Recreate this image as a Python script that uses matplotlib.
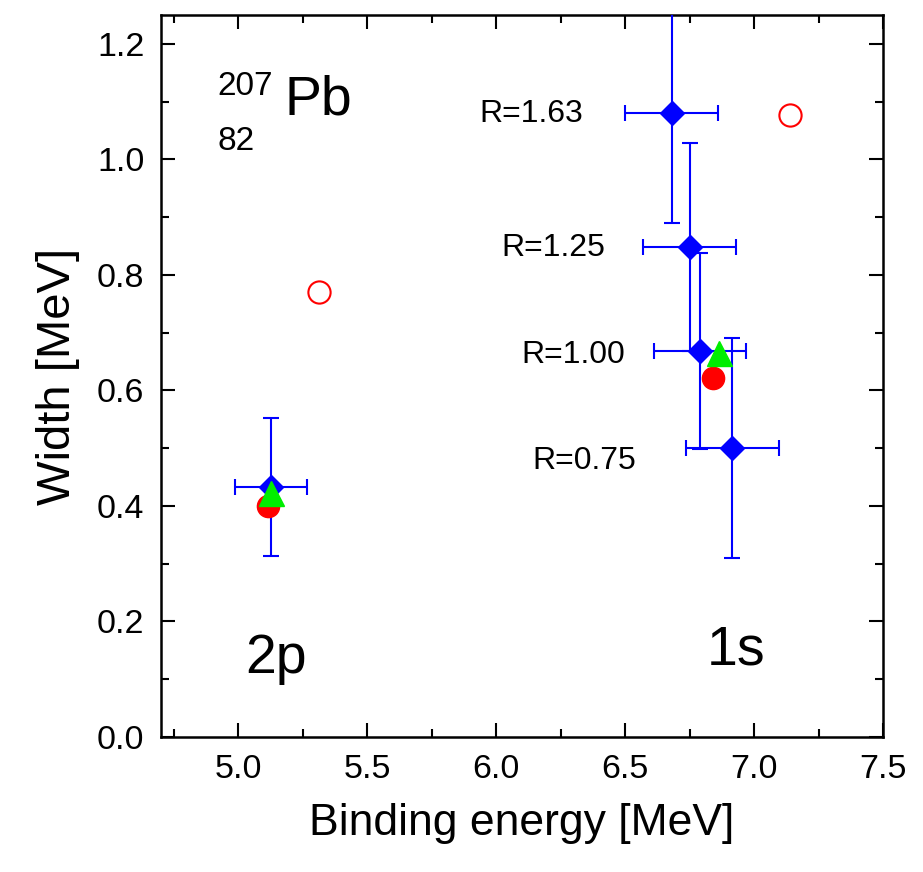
#!/usr/bin/env python3
"""
Pb-207 pionic/kaonic level widths vs binding energy
"""
import matplotlib
matplotlib.use("Agg")
import matplotlib.pyplot as plt
from matplotlib.ticker import MultipleLocator

plt.rcParams['font.family'] = ['Liberation Sans', 'DejaVu Sans']

# blue diamonds: calculated 1s for several R, plus 2p
R_LABELS   = ["R=1.63", "R=1.25", "R=1.00", "R=0.75"]
R_BE       = [6.68, 6.75, 6.79, 6.915]
R_WIDTH    = [1.08, 0.848, 0.668, 0.50]
R_BE_ERR   = [0.18, 0.18, 0.18, 0.18]
R_W_ERR    = [0.19, 0.18, 0.17, 0.19]
R_LABEL_X  = [6.136, 6.223, 6.297, 6.343]
R_LABEL_Y  = [1.064, 0.832, 0.648, 0.4635]

P2_BE, P2_WIDTH = 5.127, 0.433
P2_BE_ERR, P2_W_ERR = 0.14, 0.12

# red filled circles
RED_BE    = [5.116, 6.84]
RED_WIDTH = [0.40, 0.621]
# green triangles
GRN_BE    = [5.127, 6.865]
GRN_WIDTH = [0.423, 0.664]
# red open circles
OPEN_BE    = [5.314, 7.139]
OPEN_WIDTH = [0.771, 1.077]

BLUE, RED, GREEN = '#0000ff', '#ff0000', '#00ee00'

fig = plt.figure(figsize=(9.23, 8.72), dpi=100)
ax = fig.add_axes([0.1744, 0.1548, 0.9567 - 0.1744, 0.9828 - 0.1548])

# error bars with diamonds
ax.errorbar(R_BE, R_WIDTH, xerr=R_BE_ERR, yerr=R_W_ERR,
            fmt='D', color=BLUE, markersize=12, elinewidth=1.5,
            capsize=5.5, capthick=1.5, zorder=3)
ax.errorbar([P2_BE], [P2_WIDTH], xerr=[P2_BE_ERR], yerr=[P2_W_ERR],
            fmt='D', color=BLUE, markersize=12, elinewidth=1.5,
            capsize=5.5, capthick=1.5, zorder=3)

ax.plot(RED_BE, RED_WIDTH, 'o', color=RED, markersize=16, zorder=4)
ax.plot(GRN_BE, GRN_WIDTH, '^', color=GREEN, markersize=18, zorder=5)
ax.plot(OPEN_BE, OPEN_WIDTH, 'o', mfc='none', mec=RED,
        markersize=16, mew=1.5, zorder=4)

for lab, lx, ly in zip(R_LABELS, R_LABEL_X, R_LABEL_Y):
    ax.text(lx, ly, lab, fontsize=23, ha='center', va='baseline')

# nucleus label
ax.text(5.179, 1.077, "Pb", fontsize=40, ha='left', va='baseline')
ax.text(4.918, 1.112, "207", fontsize=24, ha='left', va='baseline')
ax.text(4.918, 1.016, "82", fontsize=24, ha='left', va='baseline')

ax.text(5.148, 0.111, "2p", fontsize=40, ha='center', va='baseline')
ax.text(6.929, 0.125, "1s", fontsize=40, ha='center', va='baseline')

ax.set_xlim(4.7, 7.5)
ax.set_ylim(0.0, 1.25)
ax.xaxis.set_major_locator(MultipleLocator(0.5))
ax.xaxis.set_minor_locator(MultipleLocator(0.25))
ax.yaxis.set_major_locator(MultipleLocator(0.2))
ax.yaxis.set_minor_locator(MultipleLocator(0.1))
ax.xaxis.set_major_formatter(plt.FormatStrFormatter('%.1f'))
ax.yaxis.set_major_formatter(plt.FormatStrFormatter('%.1f'))

ax.tick_params(which='both', direction='in', top=True, right=True,
               width=1.5, labelsize=24.5)
ax.tick_params(which='major', length=10, pad=12)
ax.tick_params(which='minor', length=5.5)
for sp in ax.spines.values():
    sp.set_linewidth(1.8)

ax.set_xlabel("Binding energy [MeV]", fontsize=32, labelpad=13)
ax.set_ylabel("Width [MeV]", fontsize=34, labelpad=12)

plt.savefig("out.png", dpi=100)
